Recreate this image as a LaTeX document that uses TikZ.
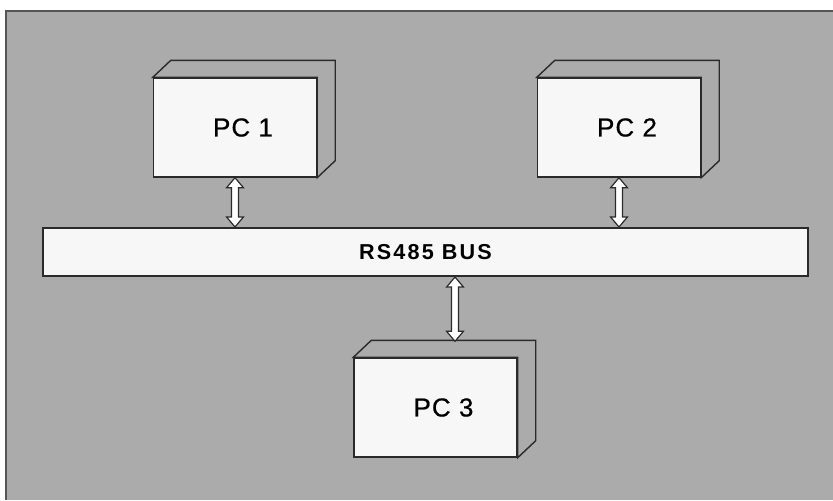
\documentclass[tikz,border=0pt]{standalone}
\usepackage{fontspec}
\setmainfont{Liberation Sans}
\newfontfamily\pcfont[LetterSpace=4,FakeBold=0.6]{Liberation Sans}
\newfontfamily\busfont[LetterSpace=10]{Liberation Sans}
\usepackage{xcolor}
\usepackage{tikz}
\usetikzlibrary{positioning,calc}
\definecolor{PanelGray}{HTML}{ABABAB}
\definecolor{FaceWhite}{HTML}{F7F7F7}
\definecolor{EdgeDark}{HTML}{2A2A2A}

% vertical double-headed link, #1 upper end, #2 lower end
\newcommand{\buslink}[2]{%
  \draw[link] let \p1=(#1), \p2=(#2) in
    (\x1,\y1) -- (\x1+4.2pt,\y1-5pt) -- (\x1+1.75pt,\y1-5pt)
    -- (\x1+1.75pt,\y2+5pt) -- (\x1+4.2pt,\y2+5pt) -- (\x1,\y2)
    -- (\x1-4.2pt,\y2+5pt) -- (\x1-1.75pt,\y2+5pt)
    -- (\x1-1.75pt,\y1-5pt) -- (\x1-4.2pt,\y1-5pt) -- cycle;}

\begin{document}
\begin{tikzpicture}[
  x=0.5pt, y=-0.5pt,
  pc/.style={draw=EdgeDark,line width=0.7pt,fill=FaceWhite,
             minimum width=81.5pt,minimum height=49.5pt,inner sep=0pt,
             font=\pcfont\fontsize{13}{15}\selectfont,
             execute at begin node=\hspace*{8pt}},
  back/.style={draw=EdgeDark,line width=0.7pt,fill=PanelGray,line join=miter},
  bus/.style={draw=EdgeDark,line width=1pt,fill=FaceWhite,
              minimum width=382.5pt,minimum height=24pt,inner sep=0pt,
              font=\busfont\bfseries\fontsize{10.8}{12}\selectfont},
  link/.style={draw=EdgeDark,line width=0.6pt,fill=white,line join=miter},
]
\useasboundingbox (0,0) rectangle (833,500);
\fill[white] (0,0) rectangle (833,500);
% grey panel with its dark left and top border
\fill[PanelGray] (6,11) rectangle (833,500);
\draw[EdgeDark!80,line width=1pt] (6,500) -- (6,11) -- (833,11);

\node[pc] (pc1) at (235,127.5) {PC 1};
\node[pc] (pc2) at (619,127.5) {PC 2};
\node[pc] (pc3) at (435.5,407.5) {PC 3};

% top and side faces of each box
\foreach \b in {pc1,pc2,pc3}
  \draw[back] (\b.north west) -- ++(18,-17) -- ($(\b.north east)+(18,-17)$)
    -- ($(\b.south east)+(18,-17)$) -- (\b.south east) -- (\b.north east) -- cycle;

\node[bus] (bus) at (425.5,252) {RS485 BUS};

\coordinate (pc3top) at ($(pc3.north)+(19.5,-16)$);
\buslink{pc1.south}{pc1.south |- bus.north}
\buslink{pc2.south}{pc2.south |- bus.north}
\buslink{pc3top |- bus.south}{pc3top}
\end{tikzpicture}
\end{document}
